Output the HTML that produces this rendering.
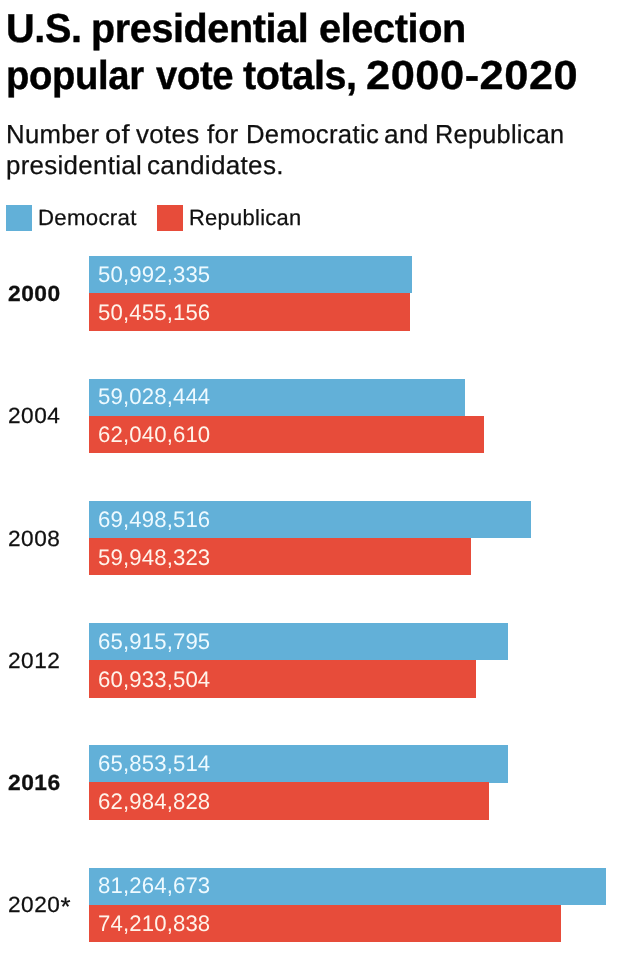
<!DOCTYPE html>
<html lang="en">
<head>
<meta charset="utf-8">
<title>U.S. presidential election popular vote totals, 2000-2020</title>
<style>
*{margin:0;padding:0;box-sizing:border-box}
html,body{width:623px;height:958px;background:#fff;overflow:hidden}
body{position:relative;font-family:"Liberation Sans",sans-serif;color:#1a1a1a;text-rendering:geometricPrecision}
.t{position:absolute;display:block;white-space:nowrap;line-height:1;font-weight:400;transform-origin:0 0}
h1,p{font-size:0;line-height:0}
.a{display:inline-block;font-weight:400;transform:translate(.8px,1.2px) scale(1.14);transform-origin:50% 30%}
.sq{position:absolute;width:26px;height:26px;top:205.3px}
.bar{position:absolute;left:89px;height:37.3px}
.d{background:#62b0d8}
.r{background:#e74c3a}
</style>
</head>
<body>
<h1>
<span class="t" style="left:5.84px;top:8px;font-size:40.5px;font-weight:700;letter-spacing:-0.40px;transform:scaleX(0.9799);-webkit-text-stroke:0.4px #000;color:#000">U.S.</span>
<span class="t" style="left:90.85px;top:8px;font-size:40.5px;font-weight:700;letter-spacing:-0.40px;transform:scaleX(0.9767);-webkit-text-stroke:0.4px #000;color:#000">presidential</span>
<span class="t" style="left:318.52px;top:8px;font-size:40.5px;font-weight:700;letter-spacing:-0.40px;transform:scaleX(0.9803);-webkit-text-stroke:0.4px #000;color:#000">election</span>
<span class="t" style="left:5.91px;top:55px;font-size:40.5px;font-weight:700;letter-spacing:-0.40px;transform:scaleX(0.9458);-webkit-text-stroke:0.4px #000;color:#000">popular</span>
<span class="t" style="left:155.72px;top:55px;font-size:40.5px;font-weight:700;letter-spacing:-0.40px;transform:scaleX(0.9446);-webkit-text-stroke:0.4px #000;color:#000">vote</span>
<span class="t" style="left:243.40px;top:55px;font-size:40.5px;font-weight:700;letter-spacing:-0.40px;transform:scaleX(0.9764);-webkit-text-stroke:0.4px #000;color:#000">totals,</span>
<span class="t" style="left:365.83px;top:55px;font-size:40.5px;font-weight:700;letter-spacing:0.50px;transform:scaleX(1.0709);-webkit-text-stroke:0.4px #000;color:#000">2000-2020</span>
</h1>
<p class="sub">
<span class="t" style="left:6.02px;top:121px;font-size:26px;letter-spacing:0.30px;transform:scaleX(0.9901);-webkit-text-stroke:0.25px #101010;color:#101010">Number</span>
<span class="t" style="left:105.29px;top:121px;font-size:26px;letter-spacing:0.30px;transform:scaleX(1.1170);-webkit-text-stroke:0.25px #101010;color:#101010">of</span>
<span class="t" style="left:136.30px;top:121px;font-size:26px;letter-spacing:0.30px;transform:scaleX(0.9980);-webkit-text-stroke:0.25px #101010;color:#101010">votes</span>
<span class="t" style="left:207.00px;top:121px;font-size:26px;letter-spacing:0.30px;transform:scaleX(1.0062);-webkit-text-stroke:0.25px #101010;color:#101010">for</span>
<span class="t" style="left:245.62px;top:121px;font-size:26px;letter-spacing:0.30px;transform:scaleX(0.9894);-webkit-text-stroke:0.25px #101010;color:#101010">Democratic</span>
<span class="t" style="left:384.49px;top:121px;font-size:26px;letter-spacing:0.30px;transform:scaleX(1.0096);-webkit-text-stroke:0.25px #101010;color:#101010">and</span>
<span class="t" style="left:435.06px;top:121px;font-size:26px;letter-spacing:0.30px;transform:scaleX(0.9722);-webkit-text-stroke:0.25px #101010;color:#101010">Republican</span>
<span class="t" style="left:6.45px;top:152px;font-size:26px;letter-spacing:0.30px;transform:scaleX(0.9955);-webkit-text-stroke:0.25px #101010;color:#101010">presidential</span>
<span class="t" style="left:147.20px;top:152px;font-size:26px;letter-spacing:0.30px;transform:scaleX(1.0038);-webkit-text-stroke:0.25px #101010;color:#101010">candidates.</span>
</p>
<div class="legend"><i class="sq d" style="left:6.2px"></i><i class="sq r" style="left:156.7px"></i>
<span class="t" style="left:38.18px;top:207px;font-size:22px;letter-spacing:0.30px;transform:scaleX(1.0094);-webkit-text-stroke:0.25px #101010;color:#101010">Democrat</span>
<span class="t" style="left:188.60px;top:207px;font-size:22px;letter-spacing:0.30px;transform:scaleX(0.9955);-webkit-text-stroke:0.25px #101010;color:#101010">Republican</span>
</div>
<div class="chart">
<!-- 2000 -->
<span class="t" style="left:7.86px;top:283px;font-size:22px;font-weight:700;letter-spacing:0.50px;transform:scaleX(1.0343);-webkit-text-stroke:0.3px #101010;color:#101010">2000</span>
<div class="bar d" style="top:256.2px;height:37.2px;width:323.0px"></div>
<div class="bar r" style="top:293.2px;height:37.6px;width:321.2px"></div>
<span class="t" style="left:98.22px;top:264px;font-size:22.5px;letter-spacing:0.15px;transform:scaleX(0.9845);color:#eefaff">50,992,335</span>
<span class="t" style="left:98.22px;top:302px;font-size:22.5px;letter-spacing:0.15px;transform:scaleX(0.9845);color:#fff3ea">50,455,156</span>
<!-- 2004 -->
<span class="t" style="left:7.79px;top:405px;font-size:22px;letter-spacing:0.50px;transform:scaleX(1.0280);-webkit-text-stroke:0.25px #101010;color:#101010">2004</span>
<div class="bar d" style="top:378.7px;height:37.2px;width:375.7px"></div>
<div class="bar r" style="top:415.7px;height:37.6px;width:395.0px"></div>
<span class="t" style="left:98.22px;top:386px;font-size:22.5px;letter-spacing:0.15px;transform:scaleX(0.9845);color:#eefaff">59,028,444</span>
<span class="t" style="left:98.22px;top:424px;font-size:22.5px;letter-spacing:0.15px;transform:scaleX(0.9845);color:#fff3ea">62,040,610</span>
<!-- 2008 -->
<span class="t" style="left:7.79px;top:528px;font-size:22px;letter-spacing:0.50px;transform:scaleX(1.0280);-webkit-text-stroke:0.25px #101010;color:#101010">2008</span>
<div class="bar d" style="top:500.9px;height:37.2px;width:441.7px"></div>
<div class="bar r" style="top:537.9px;height:37.6px;width:381.5px"></div>
<span class="t" style="left:98.22px;top:509px;font-size:22.5px;letter-spacing:0.15px;transform:scaleX(0.9845);color:#eefaff">69,498,516</span>
<span class="t" style="left:98.22px;top:547px;font-size:22.5px;letter-spacing:0.15px;transform:scaleX(0.9845);color:#fff3ea">59,948,323</span>
<!-- 2012 -->
<span class="t" style="left:7.79px;top:650px;font-size:22px;letter-spacing:0.50px;transform:scaleX(1.0280);-webkit-text-stroke:0.25px #101010;color:#101010">2012</span>
<div class="bar d" style="top:623.3px;height:37.2px;width:418.8px"></div>
<div class="bar r" style="top:660.3px;height:37.6px;width:387.0px"></div>
<span class="t" style="left:98.22px;top:631px;font-size:22.5px;letter-spacing:0.15px;transform:scaleX(0.9845);color:#eefaff">65,915,795</span>
<span class="t" style="left:98.22px;top:669px;font-size:22.5px;letter-spacing:0.15px;transform:scaleX(0.9845);color:#fff3ea">60,933,504</span>
<!-- 2016 -->
<span class="t" style="left:7.86px;top:772px;font-size:22px;font-weight:700;letter-spacing:0.50px;transform:scaleX(1.0343);-webkit-text-stroke:0.3px #101010;color:#101010">2016</span>
<div class="bar d" style="top:745.4px;height:37.2px;width:418.8px"></div>
<div class="bar r" style="top:782.4px;height:37.6px;width:400.2px"></div>
<span class="t" style="left:98.22px;top:753px;font-size:22.5px;letter-spacing:0.15px;transform:scaleX(0.9845);color:#eefaff">65,853,514</span>
<span class="t" style="left:98.22px;top:791px;font-size:22.5px;letter-spacing:0.15px;transform:scaleX(0.9845);color:#fff3ea">62,984,828</span>
<!-- 2020* -->
<span class="t" style="left:7.79px;top:894px;font-size:22px;letter-spacing:0.50px;transform:scaleX(1.0280);-webkit-text-stroke:0.25px #101010;color:#101010">2020<b class="a">*</b></span>
<div class="bar d" style="top:867.6px;height:37.2px;width:517.2px"></div>
<div class="bar r" style="top:904.6px;height:37.6px;width:472.0px"></div>
<span class="t" style="left:98.22px;top:875px;font-size:22.5px;letter-spacing:0.15px;transform:scaleX(0.9845);color:#eefaff">81,264,673</span>
<span class="t" style="left:98.22px;top:913px;font-size:22.5px;letter-spacing:0.15px;transform:scaleX(0.9845);color:#fff3ea">74,210,838</span>
</div>
</body>
</html>
